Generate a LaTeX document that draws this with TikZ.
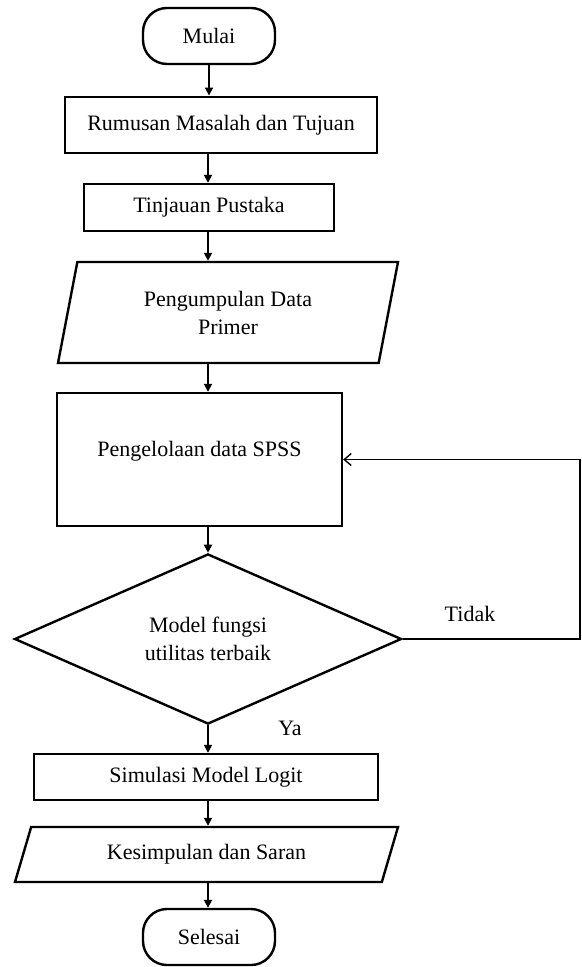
\documentclass[tikz,border=0pt]{standalone}
\usepackage{fontspec}
\setmainfont{Liberation Serif}
\usetikzlibrary{shapes.geometric,arrows.meta}
\begin{document}
\begin{tikzpicture}[x=0.5pt,y=-0.5pt,
    font=\fontsize{11}{14}\selectfont,
    terminal/.style={draw,line width=1.2pt,rounded corners=12pt,minimum width=66pt,minimum height=28pt,inner sep=0pt},
    kotak/.style={draw,line width=1.2pt,inner sep=0pt},
    masukan/.style={draw,line width=1.2pt,trapezium,trapezium stretches body,inner sep=0pt,align=center},
    keputusan/.style={draw,line width=1.2pt,diamond,inner sep=0pt,align=center},
    panah/.style={line width=0.9pt,-{Triangle[length=4pt,width=4pt]}},
    balikan/.style={line width=0.7pt,-{Straight Barb[length=3.5pt,width=6pt]}}]
      \useasboundingbox (0,0) rectangle (582,967);
      \coordinate (spine) at (208,0);
      \coordinate (balik) at (580,550);
      \draw
        (209,36) node[terminal] (mulai){Mulai}
        (221,125) node[kotak,line width=1.45pt,minimum width=156pt,minimum height=28pt] (rumusan){Rumusan Masalah dan Tujuan}
        (209,207.5) node[kotak,minimum width=125pt,minimum height=23.5pt] (tinjauan){Tinjauan Pustaka}
        (228,312.5) node[masukan,trapezium left angle=66,trapezium right angle=114,minimum width=170pt,minimum height=50.5pt] (pengumpulan){Pengumpulan Data\\Primer}
        (199.5,459.5) node[kotak,minimum width=142.5pt,minimum height=66.5pt,text depth=11pt] (pengelolaan){Pengelolaan data SPSS}
        (208,639) node[keputusan,minimum width=193.5pt,minimum height=84pt] (model){Model fungsi\\utilitas terbaik}
        (206,777) node[kotak,minimum width=172pt,minimum height=23pt] (simulasi){Simulasi Model Logit}
        (206.5,854.5) node[masukan,trapezium left angle=51,trapezium right angle=129,minimum width=191.5pt,minimum height=27.5pt] (kesimpulan){Kesimpulan dan Saran}
        (209,937) node[terminal] (selesai){Selesai}
        (290,728) node (ya){Ya}
        (470,614) node (tidak){Tidak};
      \begin{scope}[panah]
        \draw (mulai) to (mulai |- rumusan.north);
        \draw (rumusan.south -| spine) to (spine |- tinjauan.north);
        \draw (tinjauan.south -| spine) to (spine |- pengumpulan.north);
        \draw (pengumpulan.south -| spine) to (spine |- pengelolaan.north);
        \draw (pengelolaan.south -| spine) to (model);
        \draw (model) to (model |- simulasi.north);
        \draw (simulasi.south -| spine) to (spine |- kesimpulan.north);
        \draw (kesimpulan.south -| spine) to (spine |- selesai.north);
      \end{scope}
      \draw[balikan] (model.east) -| (balik) |- (pengelolaan.east);
    \end{tikzpicture}
\end{document}
